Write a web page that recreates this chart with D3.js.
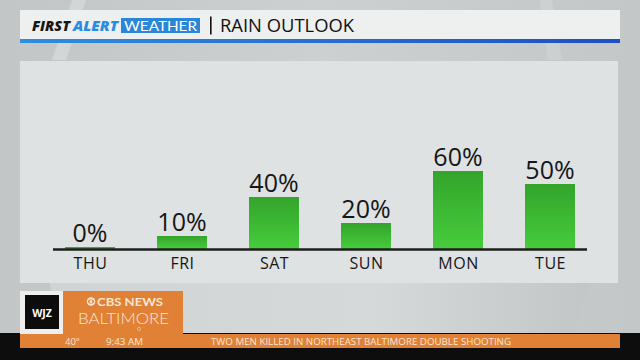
<!DOCTYPE html>
<html><head><meta charset="utf-8">
<script src="https://cdn.jsdelivr.net/npm/d3@7/dist/d3.min.js"></script>
<style>html,body{margin:0;padding:0;background:#c6caca;overflow:hidden}svg{display:block}</style>
</head><body>
<script>
const days = ["THU","FRI","SAT","SUN","MON","TUE"];
const rainChance = [0,10,40,20,60,50];
const valueLabels = ["0%","10%","40%","20%","60%","50%"];
const headerBrand = ["FIRST","ALERT","WEATHER"];
const headerTitle = "RAIN OUTLOOK";
const tickerItems = ["40°","9:43 AM","TWO MEN KILLED IN NORTHEAST BALTIMORE DOUBLE SHOOTING"];

const W = 640, H = 360;
const svg = d3.select("body").append("svg").attr("width", W).attr("height", H);
const defs = svg.append("defs");

// background gradient
const bg = defs.append("linearGradient").attr("id","bg").attr("x1",0).attr("x2",1).attr("y1",0).attr("y2",0);
bg.append("stop").attr("offset",0).attr("stop-color","#c3c6c6");
bg.append("stop").attr("offset",0.5).attr("stop-color","#cdd0d0");
bg.append("stop").attr("offset",1).attr("stop-color","#c4c7c7");
svg.append("rect").attr("width",W).attr("height",H).attr("fill","url(#bg)");

// light streaks
svg.append("path").attr("d","M72,0 L86,0 L66,60 L52,60 Z").attr("fill","#d6d9d9").attr("opacity",0.8);
svg.append("path").attr("d","M540,0 L552,0 L562,60 L548,60 Z").attr("fill","#d2d5d5").attr("opacity",0.6);
// bowl shape below panel
const bowl = defs.append("linearGradient").attr("id","bowl").attr("x1",0).attr("x2",1).attr("y1",0).attr("y2",0);
bowl.append("stop").attr("offset",0).attr("stop-color","#d0d4d4");
bowl.append("stop").attr("offset",0.6).attr("stop-color","#d6d9d9");
bowl.append("stop").attr("offset",1).attr("stop-color","#c2c6c6");
svg.append("path").attr("d","M50,283 L590,283 L572,333 L70,333 Q52,310 50,283 Z").attr("fill","url(#bowl)");

// panel
svg.append("rect").attr("x",20).attr("y",61).attr("width",598).attr("height",222).attr("fill","#dfe2e2");

// header
svg.append("rect").attr("x",20).attr("y",10).attr("width",600).attr("height",30).attr("fill","#eeefef");
const hb = defs.append("linearGradient").attr("id","hb").attr("x1",0).attr("x2",1).attr("y1",0).attr("y2",0);
hb.append("stop").attr("offset",0).attr("stop-color","#2f8ee0");
hb.append("stop").attr("offset",1).attr("stop-color","#1d4fc6");
svg.append("rect").attr("x",20).attr("y",39).attr("width",600).attr("height",4).attr("fill","url(#hb)");

const brandFont = "'Open Sans', Lato, sans-serif";
svg.append("text").attr("x",32).attr("y",30.5)
  .attr("font-family",brandFont).attr("font-size",14)
  .attr("font-weight",800).attr("font-style","italic")
  .attr("textLength",38).attr("lengthAdjust","spacingAndGlyphs")
  .attr("fill","#161616").text(headerBrand[0]);
svg.append("text").attr("x",73).attr("y",30.5)
  .attr("font-family",brandFont).attr("font-size",14)
  .attr("font-weight",800).attr("font-style","italic")
  .attr("textLength",45).attr("lengthAdjust","spacingAndGlyphs")
  .attr("fill","#2a8ce0").text(headerBrand[1]);
svg.append("rect").attr("x",121).attr("y",18).attr("width",79).attr("height",15).attr("fill","#2a86d8");
svg.append("text").attr("x",124).attr("y",30.5)
  .attr("font-family","Lato, 'Open Sans', sans-serif").attr("font-size",14).attr("font-weight",400)
  .attr("textLength",73).attr("lengthAdjust","spacingAndGlyphs")
  .attr("fill","#ffffff").text(headerBrand[2]);
svg.append("rect").attr("x",210).attr("y",16.5).attr("width",1.6).attr("height",18).attr("fill","#111");
svg.append("text").attr("x",220).attr("y",31.5)
  .attr("font-family","'Open Sans', Lato, sans-serif").attr("font-size",18.5).attr("font-weight",400)
  .attr("textLength",134).attr("lengthAdjust","spacingAndGlyphs")
  .attr("fill","#111").text(headerTitle);

// chart
const x = d3.scalePoint().domain(days).range([90, 550]);
const y = d3.scaleLinear().domain([0, 60]).range([249, 171]);
const barW = 50;

const g = defs.append("linearGradient").attr("id","bar").attr("x1",0).attr("x2",0).attr("y1",0).attr("y2",1);
g.append("stop").attr("offset",0).attr("stop-color","#33a42b");
g.append("stop").attr("offset",1).attr("stop-color","#47cc3c");

const data = days.map((d,i)=>({day:d, v:rainChance[i], label:valueLabels[i]}));

svg.append("g").selectAll("rect").data(data).join("rect")
  .attr("x", d => x(d.day) - barW/2)
  .attr("y", d => Math.min(y(d.v), y(0) - 2))
  .attr("width", barW)
  .attr("height", d => Math.max(y(0) - y(d.v), 2))
  .attr("fill", "url(#bar)");

svg.append("line").attr("x1",53).attr("x2",587).attr("y1",y(0)+0.5).attr("y2",y(0)+0.5)
  .attr("stroke","#1e1e1e").attr("stroke-width",2.5);

svg.append("g").selectAll("text").data(data).join("text")
  .attr("x", d => x(d.day))
  .attr("y", d => Math.min(y(d.v), y(0) - 2) - 5)
  .attr("text-anchor","middle")
  .attr("font-family","'Open Sans', Lato, sans-serif").attr("font-size",25).attr("font-weight",400)
  .attr("fill","#161616").text(d => d.label);

// x axis labels via d3 axis
const ax = svg.append("g").attr("transform",`translate(0,${y(0)})`)
  .call(d3.axisBottom(x).tickSize(0).tickPadding(9));
ax.select(".domain").remove();
ax.selectAll("text").attr("font-family","'Open Sans', Lato, sans-serif").attr("font-size",16)
  .attr("fill","#161616").attr("letter-spacing",0.5);

// lower third
svg.append("rect").attr("x",0).attr("y",333).attr("width",W).attr("height",27).attr("fill","#0d0d0d");
svg.append("rect").attr("x",20).attr("y",291).attr("width",43).attr("height",43).attr("fill","#eeeeee");
svg.append("rect").attr("x",25).attr("y",295).attr("width",34).attr("height",34).attr("fill","#0c0c0c");
svg.append("text").attr("x",42).attr("y",317).attr("text-anchor","middle")
  .attr("font-family","'Open Sans', sans-serif").attr("font-size",10.5).attr("font-weight",700)
  .attr("fill","#ffffff").text("WJZ");
svg.append("rect").attr("x",63).attr("y",291).attr("width",120).attr("height",43).attr("fill","#e08136");
svg.append("rect").attr("x",20).attr("y",334).attr("width",600).attr("height",14).attr("fill","#e08136");
// CBS eye
svg.append("circle").attr("cx",91).attr("cy",301.5).attr("r",4.3).attr("fill","#f7e6d4");
svg.append("ellipse").attr("cx",91).attr("cy",301.5).attr("rx",3).attr("ry",2).attr("fill","#e08136");
svg.append("circle").attr("cx",91).attr("cy",301.5).attr("r",1.5).attr("fill","#f7e6d4");
svg.append("text").attr("x",97).attr("y",305.5).attr("font-family","Lato, sans-serif").attr("font-size",11)
  .attr("font-weight",700).attr("fill","#f7e6d4").attr("textLength",66).attr("lengthAdjust","spacingAndGlyphs").text("CBS NEWS");
svg.append("text").attr("x",78).attr("y",324).attr("font-family","Lato, sans-serif").attr("font-size",15.5)
  .attr("font-weight",300).attr("fill","#f7e6d4").attr("textLength",91).attr("lengthAdjust","spacingAndGlyphs").text("BALTIMORE");
svg.append("circle").attr("cx",139).attr("cy",329).attr("r",1.6).attr("fill","none").attr("stroke","#f3cfae").attr("stroke-width",0.6);

const tick = svg.append("g").attr("font-family","'Open Sans', sans-serif").attr("font-size",9.5).attr("fill","#f7e6d4");
tick.append("text").attr("x",65).attr("y",345).text(tickerItems[0]);
tick.append("text").attr("x",106).attr("y",345).attr("textLength",37).attr("lengthAdjust","spacingAndGlyphs").text(tickerItems[1]);
tick.append("text").attr("x",211).attr("y",345).attr("textLength",300).attr("lengthAdjust","spacingAndGlyphs").text(tickerItems[2]);
</script>
</body></html>
